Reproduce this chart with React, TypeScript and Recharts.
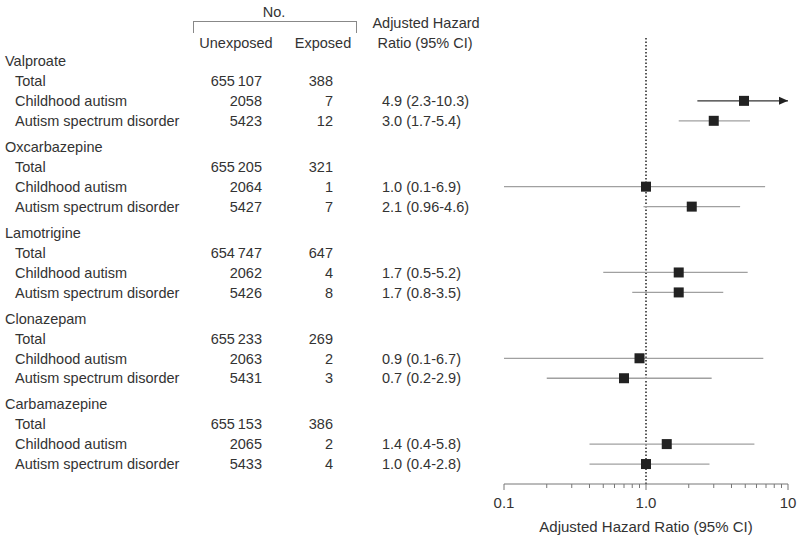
import React from "react";
import {
  ScatterChart,
  Scatter,
  XAxis,
  YAxis,
  ErrorBar,
  ReferenceLine,
} from "recharts";

const drugs = ["Valproate", "Oxcarbazepine", "Lamotrigine", "Clonazepam", "Carbamazepine"];
const totalUnexposed = [655107, 655205, 654747, 655233, 655153];
const totalExposed = [388, 321, 647, 269, 386];

const caUnexposed = [2058, 2064, 2062, 2063, 2065];
const caExposed = [7, 1, 4, 2, 2];
const caHR = [4.9, 1.0, 1.7, 0.9, 1.4];
const caLow = [2.3, 0.1, 0.5, 0.1, 0.4];
const caHigh = [10.3, 6.9, 5.2, 6.7, 5.8];

const asdUnexposed = [5423, 5427, 5426, 5431, 5433];
const asdExposed = [12, 7, 8, 3, 4];
const asdHR = [3.0, 2.1, 1.7, 0.7, 1.0];
const asdLow = [1.7, 0.96, 0.8, 0.2, 0.4];
const asdHigh = [5.4, 4.6, 3.5, 2.9, 2.8];

const majorTicks = [0.1, 1, 10];
const minorTicks = [0.2, 0.3, 0.4, 0.5, 0.6, 0.7, 0.8, 0.9, 2, 3, 4, 5, 6, 7, 8, 9];
const tickLabels: Record<number, string> = { 0.1: "0.1", 1: "1.0", 10: "10" };

const X_MAX = 10;
const GROUP_STEP = 4.3;
const FONT = "'Liberation Sans', Arial, sans-serif";
const TEXT = "#333";

type Row = {
  pos: number;
  label: string;
  indent: boolean;
  unexposed?: number;
  exposed?: number;
  hr?: number;
  lo?: number;
  hi?: number;
};

const rows: Row[] = [];
drugs.forEach((d, g) => {
  const base = g * GROUP_STEP;
  rows.push({ pos: base, label: d, indent: false });
  rows.push({ pos: base + 1, label: "Total", indent: true, unexposed: totalUnexposed[g], exposed: totalExposed[g] });
  rows.push({
    pos: base + 2, label: "Childhood autism", indent: true,
    unexposed: caUnexposed[g], exposed: caExposed[g], hr: caHR[g], lo: caLow[g], hi: caHigh[g],
  });
  rows.push({
    pos: base + 3, label: "Autism spectrum disorder", indent: true,
    unexposed: asdUnexposed[g], exposed: asdExposed[g], hr: asdHR[g], lo: asdLow[g], hi: asdHigh[g],
  });
});

const estimates = rows
  .filter((r) => r.hr !== undefined)
  .map((r) => ({
    pos: r.pos,
    hr: r.hr as number,
    err: [(r.hr as number) - (r.lo as number), Math.min(r.hi as number, X_MAX) - (r.hr as number)],
    clipped: (r.hi as number) > X_MAX,
  }));
const openCI = estimates.filter((e) => !e.clipped);
const clippedCI = estimates.filter((e) => e.clipped);
const arrows = clippedCI.map((e) => ({ pos: e.pos, hr: X_MAX }));

const fmtCount = (n: number) =>
  n >= 10000 ? String(n).replace(/\B(?=(\d{3})+(?!\d))/g, "\u2009") : String(n);
const fmtHR = (r: Row) => `${(r.hr as number).toFixed(1)} (${r.lo}-${r.hi})`;

const RowTick = (props: any) => {
  const r = rows[props.index];
  if (!r) return null;
  const y = props.y;
  const common = { fontFamily: FONT, fontSize: 14.5, fill: TEXT, dy: "0.36em" } as const;
  return (
    <g>
      <text x={r.indent ? 15 : 5} y={y} {...common}>{r.label}</text>
      {r.unexposed !== undefined && (
        <text x={262} y={y} textAnchor="end" {...common}>{fmtCount(r.unexposed)}</text>
      )}
      {r.exposed !== undefined && (
        <text x={333} y={y} textAnchor="end" {...common}>{fmtCount(r.exposed)}</text>
      )}
      {r.hr !== undefined && (
        <text x={382} y={y} {...common}>{fmtHR(r)}</text>
      )}
    </g>
  );
};

const AxisTick = (props: any) => {
  const v = props.payload.value;
  const major = majorTicks.includes(v);
  return (
    <g>
      <line x1={props.x} x2={props.x} y1={props.y} y2={props.y + (major ? 6 : 4)} stroke="#777" />
      {major && (
        <text x={props.x} y={props.y + 24} textAnchor="middle" fontFamily={FONT} fontSize={15} fill={TEXT}>
          {tickLabels[v]}
        </text>
      )}
    </g>
  );
};

const Square = (props: any) => (
  <rect x={props.cx - 5} y={props.cy - 5} width={10} height={10} fill="#222" />
);

const Arrow = (props: any) => (
  <path d={`M${props.cx},${props.cy} L${props.cx - 9},${props.cy - 4} L${props.cx - 9},${props.cy + 4} Z`} fill="#222" />
);

const hdr: React.CSSProperties = {
  position: "absolute",
  transform: "translate(-50%, -50%)",
  fontFamily: FONT,
  fontSize: 14.5,
  color: TEXT,
  lineHeight: 1,
  whiteSpace: "nowrap",
};

export default function App() {
  return (
    <div style={{ position: "absolute", left: 0, top: 0, width: 800, height: 540, background: "#fff" }}>
      <ScatterChart width={800} height={540} margin={{ top: 37, right: 12, bottom: 0, left: 0 }}>
        <XAxis
          type="number"
          dataKey="hr"
          scale="log"
          domain={[0.1, 10]}
          allowDataOverflow
          ticks={[...majorTicks, ...minorTicks].sort((a, b) => a - b)}
          interval={0}
          height={56}
          tickLine={false}
          tickSize={0}
          tickMargin={0}
          tick={<AxisTick />}
          axisLine={{ stroke: "#777" }}
          label={{
            value: "Adjusted Hazard Ratio (95% CI)",
            position: "insideBottom",
            offset: 8,
            fill: TEXT,
            fontSize: 15,
            fontFamily: FONT,
          }}
        />
        <YAxis
          type="number"
          dataKey="pos"
          domain={[-1.2, 21.2]}
          reversed
          allowDataOverflow
          ticks={rows.map((r) => r.pos)}
          interval={0}
          width={504}
          axisLine={false}
          tickLine={false}
          tick={<RowTick />}
        />
        <ReferenceLine x={1} stroke="#222" strokeWidth={1.5} strokeDasharray="1.5 2" ifOverflow="visible" />
        <Scatter data={openCI} shape={<Square />} isAnimationActive={false}>
          <ErrorBar dataKey="err" direction="x" width={0} stroke="#a0a0a0" strokeWidth={1.3} isAnimationActive={false} />
        </Scatter>
        <Scatter data={clippedCI} shape={<Square />} isAnimationActive={false}>
          <ErrorBar dataKey="err" direction="x" width={0} stroke="#333" strokeWidth={1.2} isAnimationActive={false} />
        </Scatter>
        <Scatter data={arrows} shape={<Arrow />} isAnimationActive={false} />
      </ScatterChart>

      <div style={{ ...hdr, left: 274, top: 12 }}>No.</div>
      <div
        style={{
          position: "absolute",
          left: 193,
          top: 21,
          width: 162,
          height: 11,
          borderTop: "1px solid #888",
          borderLeft: "1px solid #888",
          borderRight: "1px solid #888",
        }}
      />
      <div style={{ ...hdr, left: 236, top: 43 }}>Unexposed</div>
      <div style={{ ...hdr, left: 323, top: 43 }}>Exposed</div>
      <div style={{ ...hdr, left: 426, top: 23 }}>Adjusted Hazard</div>
      <div style={{ ...hdr, left: 425, top: 43 }}>Ratio (95% CI)</div>
    </div>
  );
}
